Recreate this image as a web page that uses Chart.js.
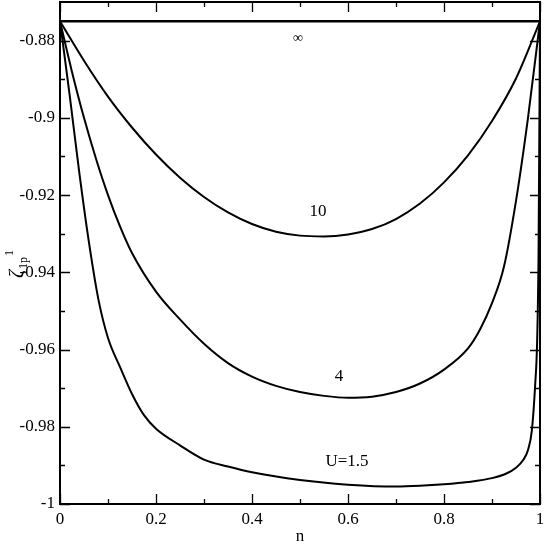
<!DOCTYPE html>
<html>
<head>
<meta charset="utf-8">
<script src="https://cdn.jsdelivr.net/npm/chart.js@4.4.1/dist/chart.umd.min.js"></script>
<style>
  html, body { margin: 0; padding: 0; background: #fff; }
</style>
</head>
<body>
<canvas id="chart" width="545" height="545"></canvas>
<script>
// axis ticks
const xTicks = [0, 0.2, 0.4, 0.6, 0.8, 1];
const xTickLabels = ["0", "0.2", "0.4", "0.6", "0.8", "1"];
const xMinor = [0.1, 0.3, 0.5, 0.7, 0.9];
const yTicks = [-1, -0.98, -0.96, -0.94, -0.92, -0.9, -0.88];
const yTickLabels = ["-1", "-0.98", "-0.96", "-0.94", "-0.92", "-0.9", "-0.88"];
const yMinor = [-0.99, -0.97, -0.95, -0.93, -0.91, -0.89];

// curves: n values and zeta values
const nInf = [0, 1];
const zInf = [-0.875, -0.875];

const n10 = [0, 0.05, 0.1, 0.15, 0.2, 0.25, 0.3, 0.35, 0.4, 0.45, 0.5, 0.55, 0.6, 0.65, 0.7, 0.75, 0.8, 0.85, 0.9, 0.95, 1];
const z10 = [-0.875, -0.8852, -0.8945, -0.9025, -0.9095, -0.9155, -0.9205, -0.9245, -0.9275, -0.9295, -0.9305, -0.9307, -0.9302, -0.9288, -0.9262, -0.9222, -0.9167, -0.9097, -0.9008, -0.8898, -0.875];

const n4 = [0, 0.025, 0.05, 0.075, 0.1, 0.125, 0.15, 0.2, 0.25, 0.3, 0.35, 0.4, 0.45, 0.5, 0.55, 0.6, 0.65, 0.7, 0.75, 0.8, 0.85, 0.875, 0.9, 0.925, 0.95, 0.975, 1];
const z4 = [-0.875, -0.8881, -0.9, -0.9106, -0.92, -0.9281, -0.935, -0.945, -0.9522, -0.9585, -0.9635, -0.967, -0.9694, -0.971, -0.972, -0.9725, -0.9722, -0.971, -0.9688, -0.9652, -0.9597, -0.9548, -0.948, -0.9385, -0.9215, -0.9, -0.875];

const nU = [0, 0.02, 0.04, 0.06, 0.08, 0.1, 0.125, 0.15, 0.175, 0.2, 0.25, 0.3, 0.35, 0.4, 0.5, 0.6, 0.7, 0.75, 0.8, 0.85, 0.9, 0.93, 0.95, 0.965, 0.975, 0.983, 0.99, 0.994, 0.997, 1];
const zU = [-0.875, -0.894, -0.914, -0.932, -0.947, -0.957, -0.9645, -0.9715, -0.977, -0.9805, -0.9848, -0.9885, -0.9903, -0.9918, -0.9938, -0.995, -0.9955, -0.9953, -0.9949, -0.9943, -0.9933, -0.9921, -0.9906, -0.9886, -0.986, -0.981, -0.969, -0.958, -0.935, -0.875];

// curve labels and where they sit (data coords)
const curveLabels = ["\u221E", "10", "4", "U=1.5"];
const labelN = [0.496, 0.5375, 0.581, 0.598];
const labelZ = [-0.8795, -0.9242, -0.967, -0.9891];

const serif = '"Liberation Serif", "Times New Roman", serif';

function pts(xs, ys) {
  return xs.map((x, i) => ({ x: x, y: ys[i] }));
}

function curve(xs, ys, width) {
  return {
    data: pts(xs, ys),
    borderColor: "#000",
    borderWidth: width,
    pointRadius: 0,
    fill: false,
    cubicInterpolationMode: "monotone",
  };
}

// keep the plot box where the reference has it
function noPad(s) {
  s.paddingTop = 0;
  s.paddingBottom = 0;
  s.paddingLeft = 0;
  s.paddingRight = 0;
}

const framePlugin = {
  id: "frame",
  afterDraw(chart) {
    const ctx = chart.ctx;
    const a = chart.chartArea;
    const xs = chart.scales.x;
    const ys = chart.scales.y;
    ctx.save();
    ctx.strokeStyle = "#000";
    ctx.lineWidth = 2;
    ctx.strokeRect(a.left, a.top, a.right - a.left, a.bottom - a.top);

    // inward ticks on all four sides
    ctx.lineWidth = 1.3;
    ctx.beginPath();
    const xt = (v, len) => {
      const p = Math.round(xs.getPixelForValue(v)) + 0.5;
      ctx.moveTo(p, a.bottom); ctx.lineTo(p, a.bottom - len);
      ctx.moveTo(p, a.top); ctx.lineTo(p, a.top + len);
    };
    const yt = (v, len) => {
      const p = Math.round(ys.getPixelForValue(v)) + 0.5;
      ctx.moveTo(a.left, p); ctx.lineTo(a.left + len, p);
      ctx.moveTo(a.right, p); ctx.lineTo(a.right - len, p);
    };
    xTicks.forEach(v => xt(v, 10));
    xMinor.forEach(v => xt(v, 5));
    yTicks.forEach(v => yt(v, 10));
    yMinor.forEach(v => yt(v, 5));
    ctx.stroke();

    // curve labels
    ctx.fillStyle = "#000";
    ctx.textAlign = "center";
    ctx.textBaseline = "middle";
    curveLabels.forEach((t, i) => {
      ctx.font = (i === 0 ? "14px " : "17px ") + serif;
      ctx.fillText(t, xs.getPixelForValue(labelN[i]), ys.getPixelForValue(labelZ[i]));
    });

    // x axis title
    ctx.font = "17px " + serif;
    ctx.fillText("n", 300, 537);

    // y axis title: zeta_{1p}^{1}, rotated
    ctx.translate(23, 278);
    ctx.rotate(-Math.PI / 2);
    ctx.textAlign = "left";
    ctx.textBaseline = "alphabetic";
    ctx.font = "italic 20px " + serif;
    ctx.fillText("\u03B6", 0, 0);
    let w = ctx.measureText("\u03B6").width + 1;
    ctx.font = "12px " + serif;
    ctx.fillText("1p", w, 4);
    const w2 = ctx.measureText("1p").width;
    ctx.fillText("1", w + w2 + 1, -10);
    ctx.restore();
  },
};

new Chart(document.getElementById("chart"), {
  type: "line",
  data: {
    datasets: [
      curve(nInf, zInf, 2.5),
      curve(n10, z10, 2),
      curve(n4, z4, 2),
      curve(nU, zU, 2),
    ],
  },
  options: {
    responsive: false,
    animation: false,
    layout: { padding: { top: 2, right: 5, left: 0, bottom: 0 } },
    plugins: { legend: { display: false }, tooltip: { enabled: false } },
    scales: {
      x: {
        type: "linear",
        min: 0,
        max: 1,
        afterBuildTicks: s => { s.ticks = xTicks.map(v => ({ value: v })); },
        afterFit: s => { s.height = 41; noPad(s); },
        ticks: {
          callback: (v, i) => xTickLabels[i],
          color: "#000",
          font: { family: serif, size: 17 },
          padding: 5,
          maxRotation: 0,
          autoSkip: false,
        },
        grid: { display: false, drawTicks: false },
        border: { display: false },
      },
      y: {
        type: "linear",
        min: -1,
        max: -0.87,
        afterBuildTicks: s => { s.ticks = yTicks.map(v => ({ value: v })); },
        afterFit: s => { s.width = 60; noPad(s); },
        ticks: {
          callback: (v, i) => yTickLabels[i],
          color: "#000",
          font: { family: serif, size: 17 },
          padding: 5,
          autoSkip: false,
        },
        grid: { display: false, drawTicks: false },
        border: { display: false },
      },
    },
  },
  plugins: [framePlugin],
});
</script>
</body>
</html>
